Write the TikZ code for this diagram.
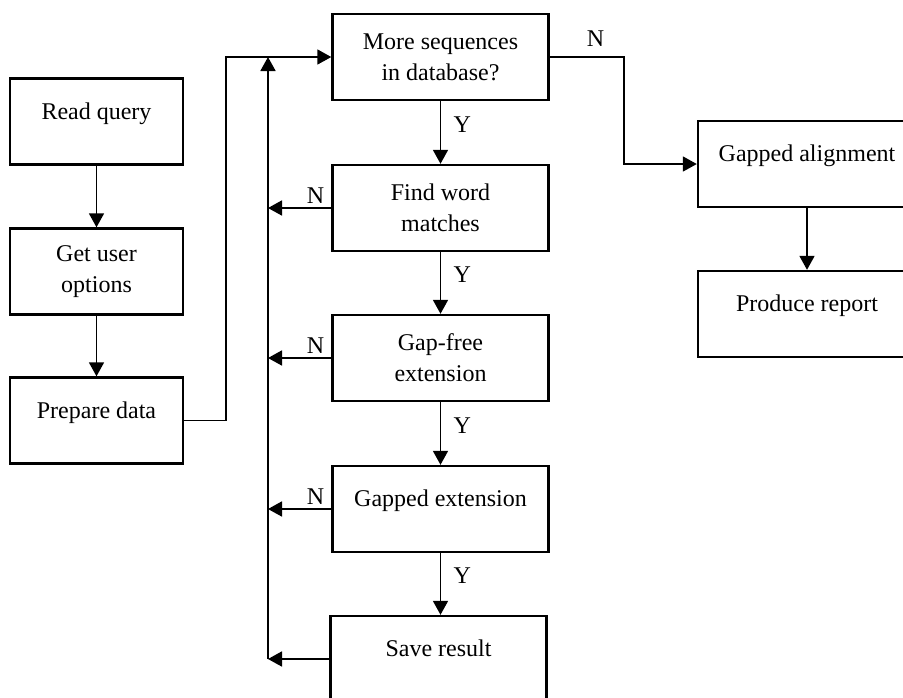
\documentclass[tikz,border=0pt]{standalone}
\usepackage{fontspec}
\setmainfont{Liberation Serif}
\usetikzlibrary{arrows.meta,positioning}

\begin{document}
\begin{tikzpicture}
    [
      x=1pt,y=-1pt,
      every node/.style={font=\fontsize{24}{31}\selectfont},
      block/.style={draw,line width=2.4pt,minimum width=216pt,minimum height=86pt,inner sep=0pt,align=center},
      sideblock/.style={block,minimum width=173pt},
      oneline/.style={text height=17pt,text depth=22pt},
      post/.style={-{Triangle[length=14pt,width=15pt]},line width=1.8pt},
      ylabel/.style={right=9pt,pos=0.37},
      nlabel/.style={above,pos=0.25},
    ]
    \useasboundingbox (0,0) rectangle (903,697);

    \node (read-query) [sideblock,oneline] at (96.5,121.5) {Read query};
    \node (user-options) [sideblock] at (96.5,271.5) {Get user\\options};
    \node (prepare-data) [sideblock,oneline] at (96.5,420.5) {Prepare data};

    \node (more-seq) [block] at (440.5,57) {More sequences\\in database?};
    \node (word-match) [block] at (440.5,208) {Find word\\matches};
    \node (gap-free) [block] at (440.5,358) {Gap-free\\extension};
    \node (gapped-ext) [block,oneline] at (440.5,509) {Gapped extension};
    \node (save-result) [block,oneline] at (438.5,659) {Save result};

    \node (gapped-align) [block,oneline,minimum width=218pt] at (807,164) {Gapped alignment};
    \node (report) [block,oneline,minimum width=218pt] at (807,314) {Produce report};

    \coordinate (feed) at (226,57);
    \coordinate (loop) at (268,57);

    \path
    (read-query) edge [post] (user-options)
    (user-options) edge [post] (prepare-data)

    (more-seq) edge [post] node [ylabel] {Y} (word-match)
    (word-match) edge [post] node [ylabel] {Y} (gap-free)
    (gap-free) edge [post] node [ylabel] {Y} (gapped-ext)
    (gapped-ext.south) edge [post] node [ylabel] {Y} (gapped-ext.south |- save-result.north)

    (word-match.west) edge [post] node [nlabel] {N} (loop |- word-match.west)
    (gap-free.west) edge [post] node [nlabel] {N} (loop |- gap-free.west)
    (gapped-ext.west) edge [post] node [nlabel] {N} (loop |- gapped-ext.west)
    (save-result.west) edge [post] (loop |- save-result.west)

    (gapped-align) edge [post] (report)
    ;

    \draw [post] (prepare-data.east) -| (feed) -- (more-seq.west);
    \draw [post] (loop |- save-result.west) -- (loop);
    \draw [post] (more-seq.east) -- ++(74,0) node [above,pos=0.62,yshift=6pt] {N} |- (gapped-align.west);

  \end{tikzpicture}
\end{document}
